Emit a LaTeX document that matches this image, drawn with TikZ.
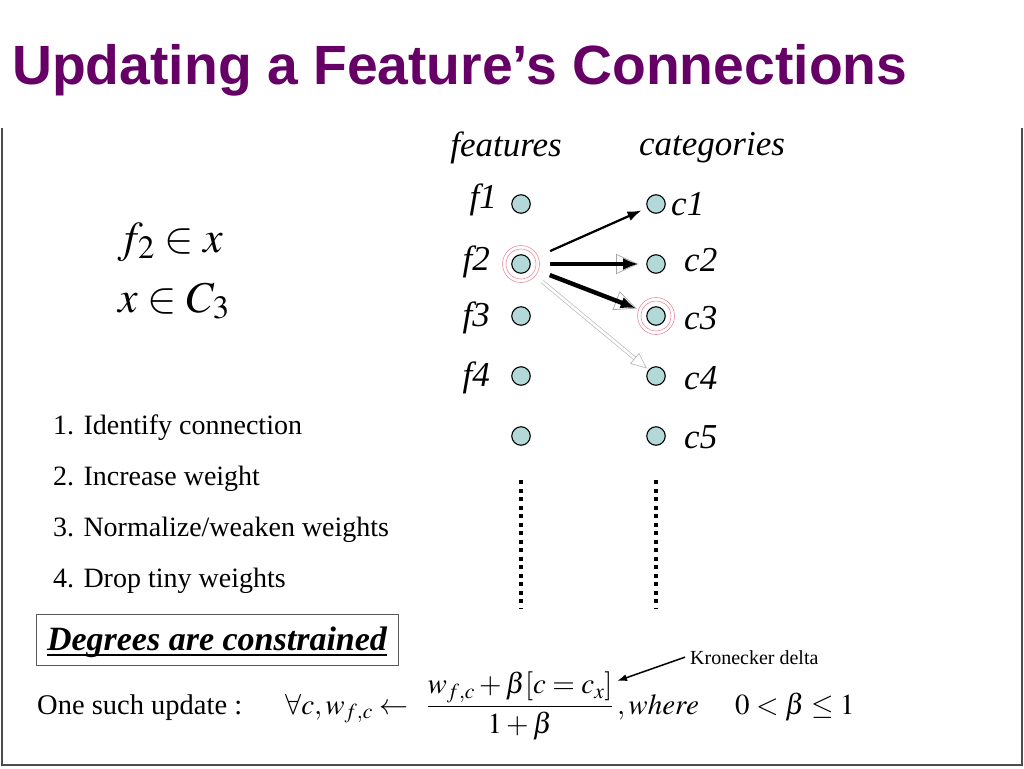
\documentclass[tikz,border=0pt]{standalone}
\usepackage{mathptmx}
\usepackage{fontspec}
\setmainfont{Liberation Serif}
\setsansfont{Liberation Sans}
\usetikzlibrary{arrows.meta}
\definecolor{titlepurple}{RGB}{102,0,102}
\definecolor{dotfill}{RGB}{178,216,216}
\definecolor{halored}{RGB}{235,140,160}
\begin{document}
\begin{tikzpicture}[x=1pt, y=-1pt,
   dot/.style={draw, circle, fill=dotfill, minimum size=18.5pt, inner sep=0pt, line width=1.1pt},
   halo/.style={draw=halored, circle, inner sep=0pt, line width=0.6pt},
   lab/.style={font=\fontsize{35}{35}\selectfont\itshape, inner sep=0pt},
   item/.style={anchor=base west, font=\fontsize{28}{28}\selectfont, inner sep=0pt},
   math/.style={anchor=base west, inner sep=0pt, font=\fontsize{29}{29}\selectfont},
   link/.style={-{Latex[length=14pt, width=10pt]}, line width=2.2pt},
   heavy/.style={-{Latex[length=15pt, width=12pt]}, line width=4.4pt},
   ghost/.style={-{Triangle[open, length=22pt, width=20pt]}, draw=gray!70, line width=0.7pt},
   faded/.style={-{Triangle[open, length=16pt, width=14pt]}, draw=gray!55, double=white, double distance=2.5pt, line width=0.7pt},
   dotcol/.style={line width=4pt, dash pattern=on 4pt off 4.5pt},
   frame/.style={draw=gray!60!black, line width=1.5pt}]

\useasboundingbox (0,0) rectangle (1024,768);
\draw[frame] (2,128) -- (2,765) -- (1022,765) -- (1022,128);

\node[anchor=base west, inner sep=0pt, text=titlepurple,
      font=\sffamily\bfseries\fontsize{55.3}{55.3}\selectfont] (title) at (12,84)
      {Updating a Feature’s Connections};

% columns of dots
\node[lab] (feat) at (506,148) {features};
\node[lab] (cat)  at (712,148) {categories};
\foreach \i/\y in {1/204,2/264,3/316,4/376,5/436} {
    \node[dot] (f\i) at (521,\y) {};
    \node[dot] (c\i) at (656,\y) {};
}
\foreach \i/\x/\y in {1/497/200,2/490/262,3/490/318,4/490/378}
    \node[lab, anchor=east] (fl\i) at (\x,\y) {f\i};
\foreach \i/\x/\y in {1/671/204,2/684/260,3/684/318,4/684/378,5/684/437}
    \node[lab, anchor=west] (cl\i) at (\x,\y) {c\i};

\node[halo, minimum size=30pt] (f2in)  at (f2) {};
\node[halo, minimum size=37pt] (f2out) at (f2) {};
\node[halo, minimum size=30pt] (c3in)  at (c3) {};
\node[halo, minimum size=37pt] (c3out) at (c3) {};

\coordinate (ftop) at (521,480);
\coordinate (fbot) at (521,609);
\coordinate (ctop) at (656,480);
\coordinate (cbot) at (656,609);
\draw[dotcol] (ftop) -- (fbot);
\draw[dotcol] (ctop) -- (cbot);

% connections of f2
\draw[faded, shorten <=18pt, shorten >=2pt] (f2) -- (c4);
\draw[link, shorten <=22pt, shorten >=6pt] (f2) -- (c1);
\draw[ghost, shorten <=19pt, shorten >=8pt] (f2) -- (c2);
\draw[heavy, shorten <=19pt, shorten >=8pt] (f2) -- (c2);
\draw[ghost, shorten <=21pt, shorten >=11pt] (f2) -- (c3);
\draw[heavy, shorten <=21pt, shorten >=12pt] (f2) -- (c3);

% left side
\node[anchor=base west, inner sep=0pt, font=\fontsize{44}{44}\selectfont] (memb) at (118,252) {$f_2 \in x$};
\node[anchor=base west, inner sep=0pt, font=\fontsize{44}{44}\selectfont] (clas) at (118,312) {$x \in C_3$};

\node[item] (s1) at (53,434) {1. Identify connection};
\node[item] (s2) at (53,485) {2. Increase weight};
\node[item] (s3) at (53,536) {3. Normalize/weaken weights};
\node[item] (s4) at (53,587) {4. Drop tiny weights};

\draw[draw=gray!70!black, line width=1pt] (36,614) rectangle (398,665);
\node[inner sep=0pt, anchor=base, font=\fontsize{34}{34}\selectfont\bfseries\itshape] (deg) at (217,650)
      {Degrees are constrained};
\draw[line width=2.6pt] ([yshift=-5pt]deg.base west) -- ([yshift=-5pt]deg.base east);

% update rule
\node[anchor=base west, inner sep=0pt, font=\fontsize{28.5}{28.5}\selectfont] (upd) at (37,714) {One such update :};
\node[math] (lhs) at (285,714) {$\forall c, w_{f,c} \leftarrow$};
\node[math, anchor=base] (frac) at (520,714) {$\displaystyle\frac{w_{f,c} + \beta[c = c_x]}{1+\beta}$};
\node[math] (where) at (617,714) {$, where$};
\node[math] (range) at (735,714) {$0 < \beta \le 1$};

\node[anchor=base west, inner sep=0pt, font=\fontsize{20}{20}\selectfont] (kd) at (690,664) {Kronecker delta};
\coordinate (kdend) at (617,681);
\draw[-{Latex[length=10pt, width=7pt]}, line width=1.5pt] (kd.west) ++(-5,0) -- (kdend);

\end{tikzpicture}
\end{document}
